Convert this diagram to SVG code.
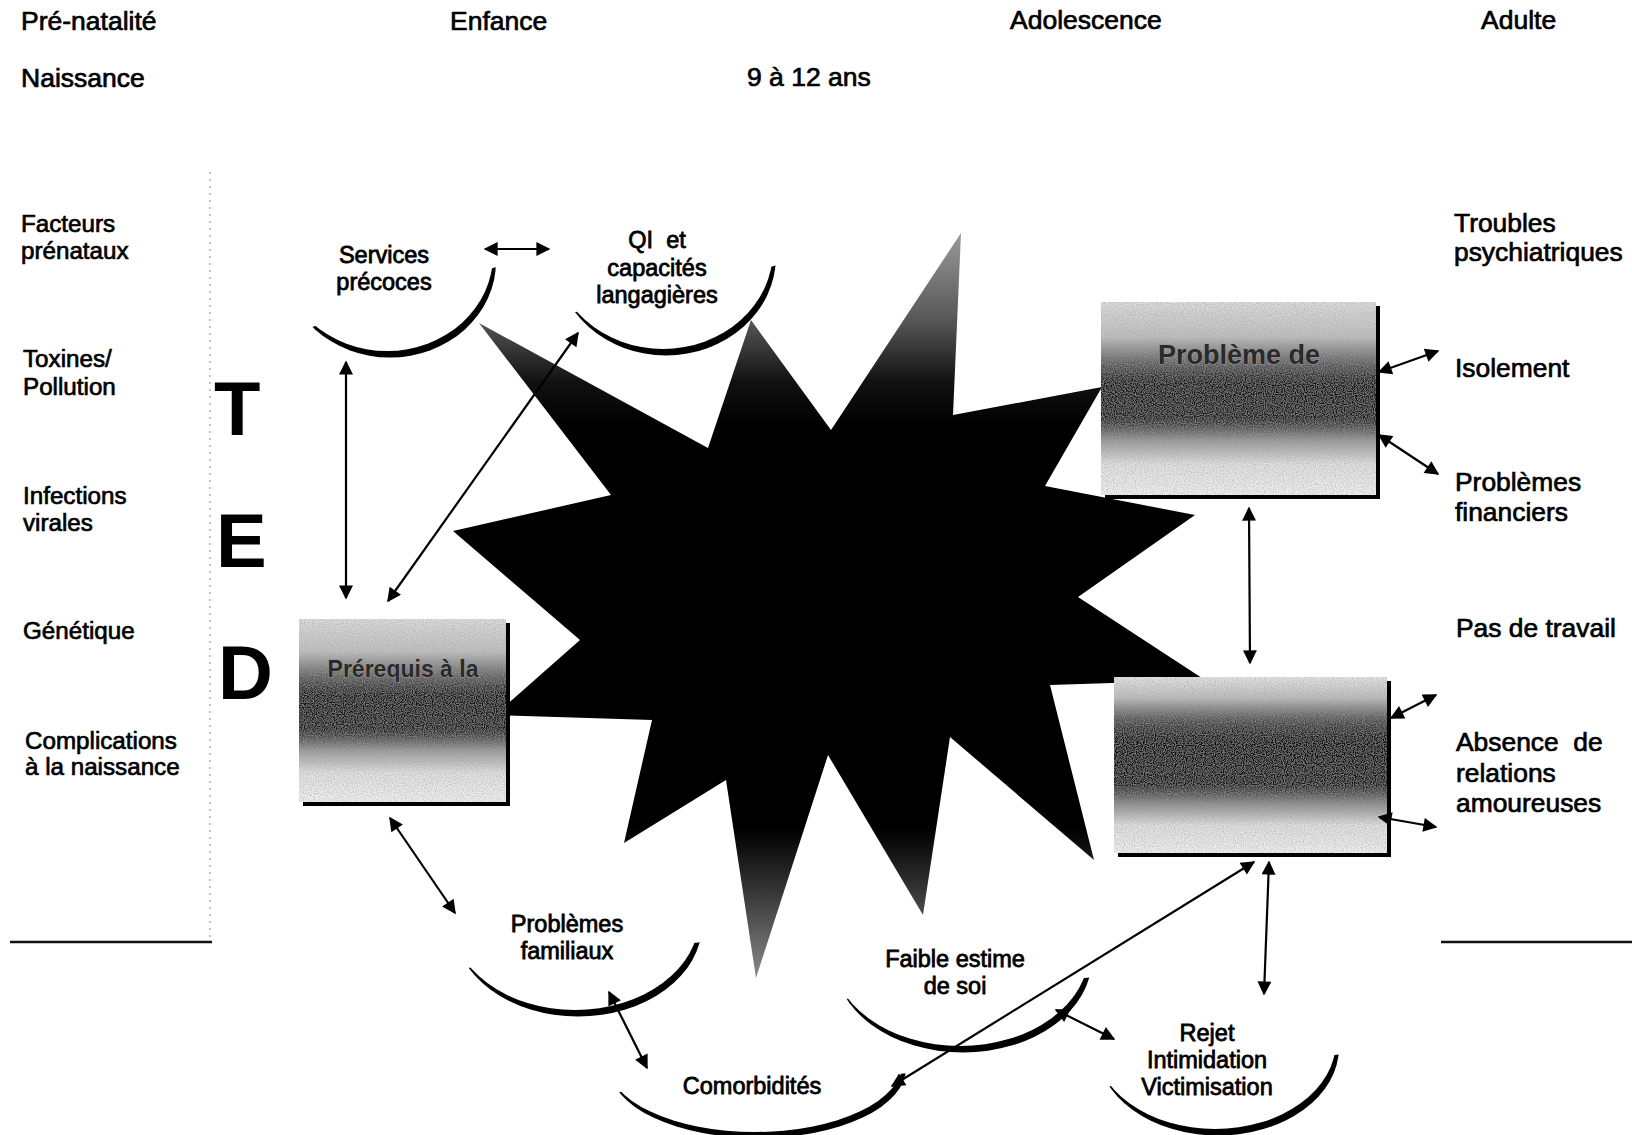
<svg xmlns="http://www.w3.org/2000/svg" width="1632" height="1135" viewBox="0 0 1632 1135">
<style>
  text { font-family: "Liberation Sans", Arial, sans-serif; fill: #000; }
  .hdr { font-size: 26.5px; stroke: #000; stroke-width: 0.7; }
  .lft { font-size: 24.2px; stroke: #000; stroke-width: 0.7; }
  .rgt { font-size: 26.4px; stroke: #000; stroke-width: 0.7; }
  .ell { font-size: 23.5px; text-anchor: middle; stroke: #000; stroke-width: 0.8; }
  .big { font-size: 76px; font-weight: bold; }
  .box { font-weight: bold; text-anchor: middle; fill: #2a2a2a; stroke: #9a9a9a; stroke-width: 1.2; paint-order: stroke; }
  .arr { stroke: #000; stroke-width: 2.2; fill: none; marker-start: url(#ah); marker-end: url(#ah); }
  .shadow { fill: #000; }
  .rule { stroke: #111; stroke-width: 2.5; }
  .dot { stroke: #9a9a9a; stroke-width: 1.2; stroke-dasharray: 2 5; }
</style>
<defs>
  <marker id="ah" viewBox="0 0 10 10" refX="9" refY="5" markerWidth="17" markerHeight="14" markerUnits="userSpaceOnUse" orient="auto-start-reverse">
    <path d="M0,0 L10,5 L0,10 z" fill="#000"/>
  </marker>
  <linearGradient id="starGrad" gradientUnits="userSpaceOnUse" x1="0" y1="233" x2="0" y2="978">
    <stop offset="0" stop-color="#9a9a9a"/>
    <stop offset="0.12" stop-color="#555"/>
    <stop offset="0.2" stop-color="#111"/>
    <stop offset="0.26" stop-color="#000"/>
    <stop offset="0.8" stop-color="#000"/>
    <stop offset="0.88" stop-color="#333"/>
    <stop offset="1" stop-color="#8a8a8a"/>
  </linearGradient>
  <linearGradient id="boxGrad" x1="0" y1="0" x2="0" y2="1">
    <stop offset="0" stop-color="#dedede"/>
    <stop offset="0.18" stop-color="#c0c0c0"/>
    <stop offset="0.3" stop-color="#6a6a6a"/>
    <stop offset="0.42" stop-color="#161616"/>
    <stop offset="0.6" stop-color="#1c1c1c"/>
    <stop offset="0.72" stop-color="#9a9a9a"/>
    <stop offset="0.84" stop-color="#e2e2e2"/>
    <stop offset="1" stop-color="#f2f2f2"/>
  </linearGradient>
  <linearGradient id="boxGrad2" x1="0" y1="0" x2="0" y2="1">
    <stop offset="0" stop-color="#e6e6e6"/>
    <stop offset="0.12" stop-color="#bdbdbd"/>
    <stop offset="0.25" stop-color="#4a4a4a"/>
    <stop offset="0.36" stop-color="#0e0e0e"/>
    <stop offset="0.6" stop-color="#141414"/>
    <stop offset="0.72" stop-color="#8a8a8a"/>
    <stop offset="0.84" stop-color="#e0e0e0"/>
    <stop offset="1" stop-color="#f2f2f2"/>
  </linearGradient>
  <filter id="grain" x="0" y="0" width="100%" height="100%">
    <feTurbulence type="fractalNoise" baseFrequency="0.9" numOctaves="1" seed="4" result="noise"/>
    <feColorMatrix in="noise" type="matrix" values="0 0 0 0 0.35  0 0 0 0 0.35  0 0 0 0 0.35  1.6 0 0 0 -0.6" result="dots"/>
    <feComposite in="dots" in2="SourceGraphic" operator="in" result="dotsIn"/>
    <feMerge><feMergeNode in="SourceGraphic"/><feMergeNode in="dotsIn"/></feMerge>
  </filter>
  <mask id="mSvc" maskUnits="userSpaceOnUse" x="0" y="0" width="1632" height="1135"><rect width="1632" height="1135" fill="#fff"/><ellipse cx="387" cy="255" rx="106" ry="96" fill="#000"/></mask>
  <mask id="mQI" maskUnits="userSpaceOnUse" x="0" y="0" width="1632" height="1135"><rect width="1632" height="1135" fill="#fff"/><ellipse cx="663" cy="250" rx="110" ry="99" fill="#000"/></mask>
  <mask id="mFam" maskUnits="userSpaceOnUse" x="0" y="0" width="1632" height="1135"><rect width="1632" height="1135" fill="#fff"/><ellipse cx="575" cy="918" rx="124" ry="92" fill="#000"/></mask>
  <mask id="mFai" maskUnits="userSpaceOnUse" x="0" y="0" width="1632" height="1135"><rect width="1632" height="1135" fill="#fff"/><ellipse cx="960" cy="952" rx="129" ry="94" fill="#000"/></mask>
  <mask id="mCom" maskUnits="userSpaceOnUse" x="0" y="0" width="1632" height="1135"><rect width="1632" height="1135" fill="#fff"/><ellipse cx="755" cy="1062" rx="148" ry="70" fill="#000"/></mask>
  <mask id="mRej" maskUnits="userSpaceOnUse" x="0" y="0" width="1632" height="1135"><rect width="1632" height="1135" fill="#fff"/><ellipse cx="1215" cy="1041" rx="121" ry="88" fill="#000"/></mask>
  <clipPath id="cSvc"><polygon points="245,349 564,245 564,560 245,560"/></clipPath>
  <clipPath id="cQI"><polygon points="481,334 855,247 855,560 481,560"/></clipPath>
  <clipPath id="cFam"><polygon points="358,980 794,932 794,1135 358,1135"/></clipPath>
  <clipPath id="cFai"><polygon points="742,1008 1187,969 1187,1135 742,1135"/></clipPath>
  <clipPath id="cCom"><polygon points="496,1100 1018,1066 1018,1135 496,1135"/></clipPath>
  <clipPath id="cRej"><polygon points="1011,1100 1429,1042 1429,1135 1011,1135"/></clipPath>
</defs>

<rect width="1632" height="1135" fill="#fff"/>

<!-- header -->
<g id="header">
  <text class="hdr" x="21" y="30">Pré-natalité</text>
  <text class="hdr" x="450" y="30">Enfance</text>
  <text class="hdr" x="1010" y="29">Adolescence</text>
  <text class="hdr" x="1481" y="29">Adulte</text>
  <text class="hdr" x="21" y="87">Naissance</text>
  <text class="hdr" x="747" y="86">9 à 12 ans</text>
</g>

<!-- frame lines -->
<g id="frame">
  <line class="dot" x1="210" y1="172" x2="210" y2="940"/>
  <line class="rule" x1="10" y1="942" x2="212" y2="942"/>
  <line class="rule" x1="1441" y1="942" x2="1632" y2="942"/>
</g>

<!-- left column -->
<g id="left-factors">
  <text class="lft" x="21" y="232">Facteurs</text>
  <text class="lft" x="21" y="259">prénataux</text>
  <text class="lft" x="23" y="367">Toxines/</text>
  <text class="lft" x="23" y="395">Pollution</text>
  <text class="lft" x="23" y="504">Infections</text>
  <text class="lft" x="23" y="531">virales</text>
  <text class="lft" x="23" y="639">Génétique</text>
  <text class="lft" x="25" y="749">Complications</text>
  <text class="lft" x="25" y="775">à la naissance</text>
</g>

<g id="ted">
  <text class="big" x="214" y="435">T</text>
  <text class="big" x="216" y="567">E</text>
  <text class="big" x="218" y="699">D</text>
</g>

<!-- right column -->
<g id="right-outcomes">
  <text class="rgt" x="1454" y="232">Troubles</text>
  <text class="rgt" x="1454" y="261">psychiatriques</text>
  <text class="rgt" x="1455" y="377">Isolement</text>
  <text class="rgt" x="1455" y="491">Problèmes</text>
  <text class="rgt" x="1455" y="521">financiers</text>
  <text class="rgt" x="1456" y="637">Pas de travail</text>
  <text class="rgt" x="1456" y="751" xml:space="preserve">Absence  de</text>
  <text class="rgt" x="1456" y="782">relations</text>
  <text class="rgt" x="1456" y="812">amoureuses</text>
</g>

<!-- central star -->
<g id="star">
  <polygon fill="url(#starGrad)" points="479,323 708,448 751,320 831,430 961,233 953,415 1102,387 1045,486 1195,515 1078,597 1205,680 1050,685 1094,860 950,737 923,915 828,755 756,978 726,780 624,843 652,720 495,715 580,640 453,531 611,495"/>
</g>

<!-- ellipses -->
<g id="services-precoces">
  <g clip-path="url(#cSvc)"><ellipse class="shadow" cx="390" cy="261.5" rx="106" ry="96" mask="url(#mSvc)"/></g>
  <text class="ell" x="384" y="263">Services</text>
  <text class="ell" x="384" y="290">précoces</text>
</g>
<g id="qi-capacites">
  <g clip-path="url(#cQI)"><ellipse class="shadow" cx="666" cy="256.5" rx="110" ry="99" mask="url(#mQI)"/></g>
  <text class="ell" x="657" y="248" xml:space="preserve">QI  et</text>
  <text class="ell" x="657" y="276">capacités</text>
  <text class="ell" x="657" y="303">langagières</text>
</g>
<g id="problemes-familiaux">
  <g clip-path="url(#cFam)"><ellipse class="shadow" cx="578" cy="924.5" rx="124" ry="92" mask="url(#mFam)"/></g>
  <text class="ell" x="567" y="932">Problèmes</text>
  <text class="ell" x="567" y="959">familiaux</text>
</g>
<g id="faible-estime">
  <g clip-path="url(#cFai)"><ellipse class="shadow" cx="963" cy="958.5" rx="129" ry="94" mask="url(#mFai)"/></g>
  <text class="ell" x="955" y="967">Faible estime</text>
  <text class="ell" x="955" y="994">de soi</text>
</g>
<g id="comorbidites">
  <g clip-path="url(#cCom)"><ellipse class="shadow" cx="758" cy="1068" rx="148" ry="70" mask="url(#mCom)"/></g>
  <text class="ell" x="752" y="1094">Comorbidités</text>
</g>
<g id="rejet">
  <g clip-path="url(#cRej)"><ellipse class="shadow" cx="1218" cy="1047.5" rx="121" ry="88" mask="url(#mRej)"/></g>
  <text class="ell" x="1207" y="1041">Rejet</text>
  <text class="ell" x="1207" y="1068">Intimidation</text>
  <text class="ell" x="1207" y="1095">Victimisation</text>
</g>

<!-- boxes -->
<g id="probleme-box">
  <rect class="shadow" x="1105" y="306" width="275" height="193"/>
  <rect x="1101" y="302" width="275" height="193" fill="url(#boxGrad)" filter="url(#grain)"/>
  <text class="box" x="1239" y="364" font-size="27">Problème de</text>
</g>
<g id="prerequis-box">
  <rect class="shadow" x="303" y="623" width="207" height="183"/>
  <rect x="299" y="619" width="207" height="183" fill="url(#boxGrad)" filter="url(#grain)"/>
  <text class="box" x="403" y="677" font-size="23">Prérequis à la</text>
</g>
<g id="lower-right-box">
  <rect class="shadow" x="1118" y="681" width="273" height="176"/>
  <rect x="1114" y="677" width="273" height="176" fill="url(#boxGrad2)" filter="url(#grain)"/>
</g>

<!-- connectors -->
<g id="connectors">
  <line class="arr" x1="485" y1="249" x2="549" y2="249"/>
  <line class="arr" x1="346" y1="362" x2="346" y2="598"/>
  <line class="arr" x1="388" y1="601" x2="578" y2="333"/>
  <line class="arr" x1="390" y1="818" x2="455" y2="913"/>
  <line class="arr" x1="609" y1="992" x2="647" y2="1068"/>
  <line class="arr" x1="892" y1="1086" x2="1254" y2="862"/>
  <line class="arr" x1="1056" y1="1010" x2="1114" y2="1039"/>
  <line class="arr" x1="1269" y1="862" x2="1264" y2="994"/>
  <line class="arr" x1="1249" y1="508" x2="1250" y2="663"/>
  <line class="arr" x1="1379" y1="372" x2="1438" y2="351"/>
  <line class="arr" x1="1379" y1="435" x2="1438" y2="474"/>
  <line class="arr" x1="1391" y1="718" x2="1436" y2="695"/>
  <line class="arr" x1="1379" y1="817" x2="1436" y2="827"/>
</g>
</svg>
